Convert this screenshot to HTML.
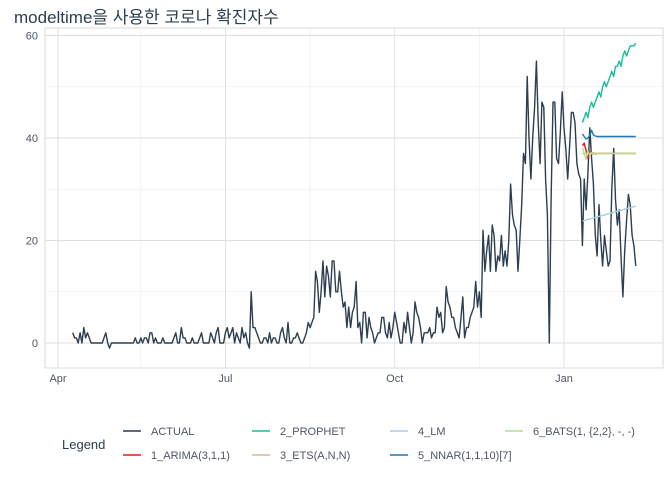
<!DOCTYPE html>
<html><head><meta charset="utf-8"><style>
body{margin:0;background:#fff;}
svg text{font-family:"Liberation Sans","Noto Sans CJK KR",sans-serif;}
</style></head><body>
<svg id="chart" width="672" height="480" xmlns="http://www.w3.org/2000/svg">
<text x="14" y="23" font-size="17" fill="#2c3e50">modeltime을 사용한 코로나 확진자수</text>
<g id="grid"></g>
<g id="axes"></g>
<g id="series"></g>
<g id="legend"></g>
</svg>
<script>
const yTicks=[0,20,40,60];
const xTickLabels=["Apr","Jul","Oct","Jan"];
const xTickDays=[-8,83,175,267];
const xMinorDays=[37,129,221];
const actual=[2,1,1,0,2,0,3,1,2,1,0,0,0,0,0,0,0,1,2,0,-1,
0,0,0,0,0,0,0,0,0,0,0,0,0,1,0,0,1,0,1,1,
0,2,2,0,1,0,0,0,1,0,0,0,0,0,1,2,0,0,3,1,
1,0,0,0,1,0,0,0,1,2,0,0,0,0,2,1,0,2,3,0,
0,0,2,3,1,2,3,0,2,1,0,3,1,2,0,-1,10,3,3,2,
1,0,0,1,1,0,2,0,1,1,0,0,2,3,1,0,4,0,0,1,
1,2,1,0,0,1,2,4,3,4,5,14,12,6,10,16,9,15,13,9,
16,16,10,10,14,10,7,8,3,7,3,6,7,12,3,4,0,6,6,1,
5,3,2,0,1,2,2,5,5,2,1,4,1,3,6,4,2,0,0,4,
2,6,3,0,2,8,6,5,3,0,2,2,2,3,1,2,2,7,5,6,
2,3,11,8,7,5,5,3,2,1,5,9,1,3,3,5,6,7,12,7,
10,5,22,14,18,21,14,23,21,14,17,16,21,15,18,15,20,31,25,23,
22,14,20,27,37,35,52,40,32,40,46,55,43,35,47,46,32,25,0,28,
47,47,36,35,41,49,42,38,32,38,45,45,43,35,33,32,19,32,26,33,
42,36,31,21,17,27,20,15,21,18,15,16,30,38,28,23,26,17,9,18,
24,29,27,21,19,15];
const fcStart=277;
const prophet=[43,44,45,44,46,47,46,47,48,49,48,50,51,50,51,52,53,52,54,54,55,54,56,57,56,57,58,58,58,58.5];
const arima=[38.5,39,37.5,36,37.3,36.8,37.1,36.9,37,37,37,37,37,37,37,37,37,37,37,37,37,37,37,37,37,37,37,37,37,37];
const ets=[37,37,37,37,37,37,37,37,37,37,37,37,37,37,37,37,37,37,37,37,37,37,37,37,37,37,37,37,37,37];
const lm=[23.8,23.9,24,24.1,24.2,24.3,24.4,24.5,24.6,24.7,24.8,24.9,25,25.1,25.2,25.3,25.4,25.5,25.6,25.7,25.8,25.9,26,26.1,26.2,26.3,26.4,26.5,26.6,26.7];
const nnar=[40.8,40.3,39.8,40,40.5,41.5,40.6,40.4,40.3,40.3,40.3,40.3,40.3,40.3,40.3,40.3,40.3,40.3,40.3,40.3,40.3,40.3,40.3,40.3,40.3,40.3,40.3,40.3,40.3,40.3];
const bats=[38,37,35.8,37.5,36.5,37.2,36.9,37.1,37,37,37,37,37,37,37,37,37,37,37,37,37,37,37,37,37,37,37,37,37,37];
const legendNames=["ACTUAL","1_ARIMA(3,1,1)","2_PROPHET","3_ETS(A,N,N)","4_LM","5_NNAR(1,1,10)[7]","6_BATS(1, {2,2}, -, -)"];

const NS="http://www.w3.org/2000/svg";
const L=45,R=663,T=28,B=368;
const xS=d=>58+1.84*(d+8);
const yS=v=>343-v*5.125;
function mk(tag,attrs,parent){const e=document.createElementNS(NS,tag);for(const k in attrs)e.setAttribute(k,attrs[k]);parent.appendChild(e);return e;}
const grid=document.getElementById('grid'),axes=document.getElementById('axes'),series=document.getElementById('series'),legend=document.getElementById('legend');
let r=mk('rect',{x:L,y:T,width:R-L,height:B-T,fill:'#fff',stroke:'#d0d0d0','stroke-width':0.8},grid);


for(let v=10;v<=60;v+=20){let g=mk('line',{x1:L,x2:R,y1:yS(v),y2:yS(v),stroke:'#ebebeb','stroke-width':0.6},grid);

}
xMinorDays.forEach(d=>{let g=mk('line',{x1:xS(d),x2:xS(d),y1:T,y2:B,stroke:'#ebebeb','stroke-width':0.6},grid);

});
yTicks.forEach(v=>{let g=mk('line',{x1:L,x2:R,y1:yS(v),y2:yS(v),stroke:'#dedede','stroke-width':0.9},grid);


let t=mk('text',{x:38,y:yS(v)+4,'text-anchor':'end','font-size':11,fill:'#4d5566'},axes);t.textContent=v;

});
xTickDays.forEach((d,i)=>{let g=mk('line',{x1:xS(d),x2:xS(d),y1:T,y2:B,stroke:'#dedede','stroke-width':0.9},grid);


let t=mk('text',{x:xS(d),y:382,'text-anchor':'middle','font-size':11,fill:'#4d5566'},axes);t.textContent=xTickLabels[i];

});
function line(vals,start,color,name){const pts=vals.map((v,i)=>xS(start+i).toFixed(1)+','+yS(v).toFixed(1)).join(' ');
let p=mk('polyline',{points:pts,fill:'none',stroke:color,'stroke-width':1.4,'stroke-linejoin':'round'},series);

}
const colors=["#2c3e50","#e31a1c","#18bc9c","#ccbe93","#a6cee3","#1f78b4","#b2df8a"];
line(actual,0,colors[0],'actual-line');
line(prophet,fcStart,colors[2],'prophet-line');
line(lm,fcStart,colors[4],'lm-line');
line(nnar,fcStart,colors[5],'nnar-line');
line(arima,fcStart,colors[1],'arima-line');
line(ets,fcStart,colors[3],'ets-line');
line(bats,fcStart,colors[6],'bats-line');
let lt=mk('text',{x:62,y:449,'font-size':13,fill:'#2c3e50'},legend);lt.textContent='Legend';


const colX=[123,252,390,505],rowY=[431,455];
legendNames.forEach((n,i)=>{const c=Math.floor(i/2),rw=i%2;const x=colX[c],y=rowY[rw];
let k=mk('line',{x1:x,x2:x+18,y1:y,y2:y,stroke:colors[i],'stroke-width':1.6},legend);


let t=mk('text',{x:x+28,y:y+4,'font-size':11,fill:'#4d5566'},legend);t.textContent=n;

});
</script>
</body></html>
